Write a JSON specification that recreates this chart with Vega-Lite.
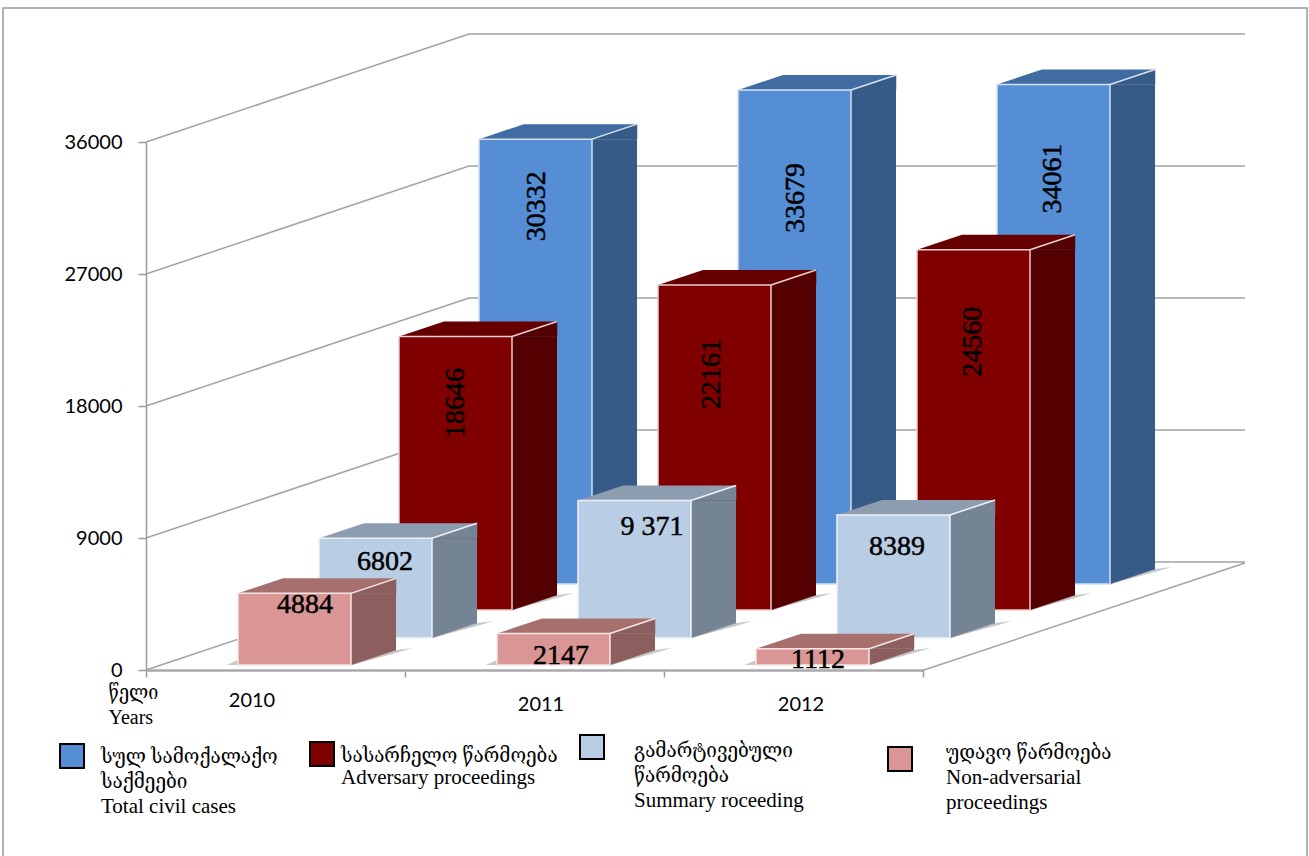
{"$schema":"https://vega.github.io/schema/vega-lite/v6.json","width":777,"height":528,"autosize":{"type":"none"},"padding":{"left":146,"top":142,"right":386,"bottom":186},"background":"white","config":{"view":{"stroke":null},"font":"Liberation Serif","legend":{"title":null,"orient":"none","symbolType":"square","symbolSize":576,"symbolOffset":0,"labelFont":"Liberation Serif, DejaVu Serif Condensed","labelFontSize":21,"labelColor":"black","labelLimit":0,"labelOffset":18,"labelBaseline":"top"}},
"resolve":{"scale":{"fill":"independent"},"legend":{"fill":"independent"}},
"datasets":{"cases":[
{"year":"2010","code":"total","series":"სულ სამოქალაქო\nსაქმეები\nTotal civil cases","value":30332,"label":"30332"},
{"year":"2011","code":"total","series":"სულ სამოქალაქო\nსაქმეები\nTotal civil cases","value":33679,"label":"33679"},
{"year":"2012","code":"total","series":"სულ სამოქალაქო\nსაქმეები\nTotal civil cases","value":34061,"label":"34061"},
{"year":"2010","code":"adv","series":"სასარჩელო წარმოება\nAdversary proceedings","value":18646,"label":"18646"},
{"year":"2011","code":"adv","series":"სასარჩელო წარმოება\nAdversary proceedings","value":22161,"label":"22161"},
{"year":"2012","code":"adv","series":"სასარჩელო წარმოება\nAdversary proceedings","value":24560,"label":"24560"},
{"year":"2010","code":"sum","series":"გამარტივებული\nწარმოება\nSummary roceeding","value":6802,"label":"6802"},
{"year":"2011","code":"sum","series":"გამარტივებული\nწარმოება\nSummary roceeding","value":9371,"label":"9 371"},
{"year":"2012","code":"sum","series":"გამარტივებული\nწარმოება\nSummary roceeding","value":8389,"label":"8389"},
{"year":"2010","code":"non","series":"უდავო წარმოება\nNon-adversarial\nproceedings","value":4884,"label":"4884"},
{"year":"2011","code":"non","series":"უდავო წარმოება\nNon-adversarial\nproceedings","value":2147,"label":"2147"},
{"year":"2012","code":"non","series":"უდავო წარმოება\nNon-adversarial\nproceedings","value":1112,"label":"1112"}],
"ticks":[{"tick":0},{"tick":9000},{"tick":18000},{"tick":27000},{"tick":36000}]},
"data":{"name":"cases"},
"encoding":{"x":{"field":"year","type":"ordinal","scale":{"domain":["2010","2011","2012"],"paddingInner":0,"paddingOuter":0},"axis":{"title":["წელი","Years"],"titleFont":"Liberation Serif, DejaVu Serif Condensed","titleFontSize":20,"titleFontWeight":"normal","titleColor":"black","titleAlign":"left","titleBaseline":"top","titleX":-38,"titleY":12,"titleLineHeight":25,"tickBand":"extent","tickSize":7,"tickColor":"#999999","tickWidth":1.5,"domainColor":"#aaaaaa","domainWidth":2.5,"labelAngle":0,"labelFont":"Lato","labelFontSize":20,"labelColor":"black","labelPadding":12,"encoding":{"labels":{"dx":{"condition":[{"test":"datum.value=='2010'","value":-24},{"test":"datum.value=='2011'","value":6}],"value":7},"dy":{"condition":{"test":"datum.value=='2010'","value":1},"value":5}}}}}},
"layer":[
{"data":{"name":"ticks"},"mark":{"type":"point","shape":"M-272.5,190L-272.5,-662L1031.5,-662L1031.5,190","size":4,"filled":false,"stroke":"#999999","strokeWidth":1.5,"opacity":1},"transform":[{"filter":"datum.tick==0"}],"encoding":{"x":{"datum":"2010"},"y":{"field":"tick","type":"quantitative","scale":{"domain":[0,36000],"nice":false,"zero":true},"axis":{"values":[0,9000,18000,27000,36000],"format":"d","title":null,"grid":false,"domainColor":"#999999","domainWidth":1.5,"tickColor":"#999999","tickWidth":1.5,"tickSize":8,"labelFont":"Lato","labelFontSize":20,"labelColor":"black","labelPadding":16}}}},
{"data":{"name":"ticks"},"mark":{"type":"point","shape":"M0,0L323,-108L1099,-108","size":4,"filled":false,"stroke":"#a3a3a3","strokeWidth":1.5,"opacity":1,"xOffset":-129.5},"encoding":{"x":{"datum":"2010"},"y":{"field":"tick","type":"quantitative"}}},
{"data":{"name":"ticks"},"transform":[{"filter":"datum.tick==0"}],"mark":{"type":"point","shape":"M775,1L1099,-107","size":4,"filled":false,"stroke":"#a3a3a3","strokeWidth":1.5,"opacity":1,"xOffset":-129.5},"encoding":{"x":{"datum":"2010"},"y":{"field":"tick","type":"quantitative"}}},

{"transform":[{"filter":"datum.code=='total'"}],"layer":[
{"mark":{"type":"point","shape":"M-56.5,0L-68,0L-56.5,-5ZM56.5,0L101.5,-15L118,-17L101.5,-12Z","size":4,"filled":true,"fill":"#c9c9c9","stroke":null,"opacity":1,"xOffset":260,"yOffset":-86},"encoding":{"y":{"datum":0,"type":"quantitative"}}},
{"mark":{"type":"bar","size":45,"fill":"#375B87","xOffset":339,"yOffset":-86,"y2Offset":-101},"encoding":{"y":{"field":"value","type":"quantitative","stack":null},"y2":{"datum":0}}},
{"mark":{"type":"point","shape":"M56.5,0L56.5,-15L101.5,-15Z","size":4,"filled":true,"fill":"#375B87","stroke":"#375B87","strokeWidth":0.5,"opacity":1,"xOffset":260,"yOffset":-86},"encoding":{"y":{"datum":0,"type":"quantitative"}}},
{"mark":{"type":"point","shape":"M56.5,0L101.5,-15L101.5,0Z","size":4,"filled":true,"fill":"#375B87","stroke":"#375B87","strokeWidth":0.5,"opacity":1,"xOffset":260,"yOffset":-86},"encoding":{"y":{"field":"value","type":"quantitative"}}},
{"mark":{"type":"point","shape":"M-56.5,0L-11.5,-15L101.5,-15L56.5,0Z","size":4,"filled":true,"fill":"#416CA1","stroke":null,"opacity":1,"xOffset":260,"yOffset":-86},"encoding":{"y":{"field":"value","type":"quantitative"}}},
{"mark":{"type":"point","shape":"M56.5,0L101.5,-15","size":4,"filled":false,"stroke":"#d5e0ee","strokeWidth":1.5,"opacity":1,"xOffset":260,"yOffset":-86},"encoding":{"y":{"field":"value","type":"quantitative"}}},
{"mark":{"type":"bar","size":113,"stroke":"#d5e0ee","strokeWidth":1.5,"xOffset":260,"yOffset":-86,"y2Offset":-86},"encoding":{"y":{"field":"value","type":"quantitative","stack":null},"y2":{"datum":0},"fill":{"field":"series","type":"nominal","scale":{"range":["#558ED5"]},"legend":{"labelExpr":"split(datum.label,'\\n')","legendX":-86,"legendY":602,"encoding":{"symbols":{"stroke":{"value":"black"},"strokeWidth":{"value":2},"x":{"value":12},"y":{"value":12}},"labels":{"lineHeight":{"value":25},"dx":{"value":-3},"dy":{"value":-11}}}}}}},
{"mark":{"type":"text","font":"Liberation Serif","fontSize":28,"stroke":"black","strokeWidth":0.5,"angle":270,"align":"center","baseline":"middle","color":"black","xOffset":{"expr":"datum.year=='2010'?261.5:datum.year=='2011'?261.5:259.5"},"yOffset":{"expr":"datum.year=='2010'?-19:datum.year=='2011'?22:8"}},"encoding":{"y":{"field":"value","type":"quantitative"},"text":{"field":"label"}}}
]},

{"transform":[{"filter":"datum.code=='adv'"}],"layer":[
{"mark":{"type":"point","shape":"M-56.5,0L-68,0L-56.5,-5ZM56.5,0L101.5,-15L118,-17L101.5,-12Z","size":4,"filled":true,"fill":"#c9c9c9","stroke":null,"opacity":1,"xOffset":180,"yOffset":-60},"encoding":{"y":{"datum":0,"type":"quantitative"}}},
{"mark":{"type":"bar","size":45,"fill":"#550000","xOffset":259,"yOffset":-60,"y2Offset":-75},"encoding":{"y":{"field":"value","type":"quantitative","stack":null},"y2":{"datum":0}}},
{"mark":{"type":"point","shape":"M56.5,0L56.5,-15L101.5,-15Z","size":4,"filled":true,"fill":"#550000","stroke":"#550000","strokeWidth":0.5,"opacity":1,"xOffset":180,"yOffset":-60},"encoding":{"y":{"datum":0,"type":"quantitative"}}},
{"mark":{"type":"point","shape":"M56.5,0L101.5,-15L101.5,0Z","size":4,"filled":true,"fill":"#550000","stroke":"#550000","strokeWidth":0.5,"opacity":1,"xOffset":180,"yOffset":-60},"encoding":{"y":{"field":"value","type":"quantitative"}}},
{"mark":{"type":"point","shape":"M-56.5,0L-11.5,-15L101.5,-15L56.5,0Z","size":4,"filled":true,"fill":"#660000","stroke":null,"opacity":1,"xOffset":180,"yOffset":-60},"encoding":{"y":{"field":"value","type":"quantitative"}}},
{"mark":{"type":"point","shape":"M56.5,0L101.5,-15","size":4,"filled":false,"stroke":"#e6cfcf","strokeWidth":1.5,"opacity":1,"xOffset":180,"yOffset":-60},"encoding":{"y":{"field":"value","type":"quantitative"}}},
{"mark":{"type":"bar","size":113,"stroke":"#e6cfcf","strokeWidth":1.5,"xOffset":180,"yOffset":-60,"y2Offset":-60},"encoding":{"y":{"field":"value","type":"quantitative","stack":null},"y2":{"datum":0},"fill":{"field":"series","type":"nominal","scale":{"range":["#800000"]},"legend":{"labelExpr":"split(datum.label,'\\n')","legendX":164,"legendY":600,"encoding":{"symbols":{"stroke":{"value":"black"},"strokeWidth":{"value":2},"x":{"value":12},"y":{"value":12}},"labels":{"lineHeight":{"value":22},"dx":{"value":-13},"dy":{"value":-10}}}}}}},
{"mark":{"type":"text","font":"Liberation Serif","fontSize":28,"stroke":"black","strokeWidth":0.5,"angle":270,"align":"center","baseline":"middle","color":"black","xOffset":{"expr":"datum.year=='2010'?180.5:datum.year=='2011'?177.5:179.5"},"yOffset":{"expr":"datum.year=='2010'?6.5:datum.year=='2011'?29:32"}},"encoding":{"y":{"field":"value","type":"quantitative"},"text":{"field":"label"}}}
]},

{"transform":[{"filter":"datum.code=='sum'"}],"layer":[
{"mark":{"type":"point","shape":"M-56.5,0L-68,0L-56.5,-5ZM56.5,0L101.5,-15L118,-17L101.5,-12Z","size":4,"filled":true,"fill":"#c9c9c9","stroke":null,"opacity":1,"xOffset":100,"yOffset":-32},"encoding":{"y":{"datum":0,"type":"quantitative"}}},
{"mark":{"type":"bar","size":45,"fill":"#748494","xOffset":179,"yOffset":-32,"y2Offset":-47},"encoding":{"y":{"field":"value","type":"quantitative","stack":null},"y2":{"datum":0}}},
{"mark":{"type":"point","shape":"M56.5,0L56.5,-15L101.5,-15Z","size":4,"filled":true,"fill":"#748494","stroke":"#748494","strokeWidth":0.5,"opacity":1,"xOffset":100,"yOffset":-32},"encoding":{"y":{"datum":0,"type":"quantitative"}}},
{"mark":{"type":"point","shape":"M56.5,0L101.5,-15L101.5,0Z","size":4,"filled":true,"fill":"#748494","stroke":"#748494","strokeWidth":0.5,"opacity":1,"xOffset":100,"yOffset":-32},"encoding":{"y":{"field":"value","type":"quantitative"}}},
{"mark":{"type":"point","shape":"M-56.5,0L-11.5,-15L101.5,-15L56.5,0Z","size":4,"filled":true,"fill":"#8D9CAF","stroke":null,"opacity":1,"xOffset":100,"yOffset":-32},"encoding":{"y":{"field":"value","type":"quantitative"}}},
{"mark":{"type":"point","shape":"M56.5,0L101.5,-15","size":4,"filled":false,"stroke":"#eef2f7","strokeWidth":1.5,"opacity":1,"xOffset":100,"yOffset":-32},"encoding":{"y":{"field":"value","type":"quantitative"}}},
{"mark":{"type":"bar","size":113,"stroke":"#eef2f7","strokeWidth":1.5,"xOffset":100,"yOffset":-32,"y2Offset":-32},"encoding":{"y":{"field":"value","type":"quantitative","stack":null},"y2":{"datum":0},"fill":{"field":"series","type":"nominal","scale":{"range":["#B9CDE5"]},"legend":{"labelExpr":"split(datum.label,'\\n')","legendX":434,"legendY":593,"encoding":{"symbols":{"stroke":{"value":"black"},"strokeWidth":{"value":2},"x":{"value":12},"y":{"value":12}},"labels":{"lineHeight":{"value":25},"dx":{"value":10},"dy":{"value":-8}}}}}}},
{"mark":{"type":"text","font":"Liberation Serif","fontSize":28,"stroke":"black","strokeWidth":0.5,"align":"center","baseline":"middle","color":"black","xOffset":{"expr":"datum.year=='2010'?109.5:datum.year=='2011'?117.5:103.5"},"yOffset":{"expr":"datum.year=='2010'?-8:datum.year=='2011'?-6:0"}},"encoding":{"y":{"field":"value","type":"quantitative"},"text":{"field":"label"}}}
]},

{"transform":[{"filter":"datum.code=='non'"}],"layer":[
{"mark":{"type":"point","shape":"M-56.5,0L-68,0L-56.5,-5ZM56.5,0L101.5,-15L118,-17L101.5,-12Z","size":4,"filled":true,"fill":"#c9c9c9","stroke":null,"opacity":1,"xOffset":19,"yOffset":-5},"encoding":{"y":{"datum":0,"type":"quantitative"}}},
{"mark":{"type":"bar","size":45,"fill":"#8C5F5E","xOffset":98,"yOffset":-5,"y2Offset":-20},"encoding":{"y":{"field":"value","type":"quantitative","stack":null},"y2":{"datum":0}}},
{"mark":{"type":"point","shape":"M56.5,0L56.5,-15L101.5,-15Z","size":4,"filled":true,"fill":"#8C5F5E","stroke":"#8C5F5E","strokeWidth":0.5,"opacity":1,"xOffset":19,"yOffset":-5},"encoding":{"y":{"datum":0,"type":"quantitative"}}},
{"mark":{"type":"point","shape":"M56.5,0L101.5,-15L101.5,0Z","size":4,"filled":true,"fill":"#8C5F5E","stroke":"#8C5F5E","strokeWidth":0.5,"opacity":1,"xOffset":19,"yOffset":-5},"encoding":{"y":{"field":"value","type":"quantitative"}}},
{"mark":{"type":"point","shape":"M-56.5,0L-11.5,-15L101.5,-15L56.5,0Z","size":4,"filled":true,"fill":"#A6706E","stroke":null,"opacity":1,"xOffset":19,"yOffset":-5},"encoding":{"y":{"field":"value","type":"quantitative"}}},
{"mark":{"type":"point","shape":"M56.5,0L101.5,-15","size":4,"filled":false,"stroke":"#f5e6e6","strokeWidth":1.5,"opacity":1,"xOffset":19,"yOffset":-5},"encoding":{"y":{"field":"value","type":"quantitative"}}},
{"mark":{"type":"bar","size":113,"stroke":"#f5e6e6","strokeWidth":1.5,"xOffset":19,"yOffset":-5,"y2Offset":-5},"encoding":{"y":{"field":"value","type":"quantitative","stack":null},"y2":{"datum":0},"fill":{"field":"series","type":"nominal","scale":{"range":["#D99694"]},"legend":{"labelExpr":"split(datum.label,'\\n')","legendX":742,"legendY":605,"encoding":{"symbols":{"stroke":{"value":"black"},"strokeWidth":{"value":2},"x":{"value":12},"y":{"value":12}},"labels":{"lineHeight":{"value":25},"dx":{"value":14},"dy":{"value":-18}}}}}}},
{"mark":{"type":"text","font":"Liberation Serif","fontSize":28,"stroke":"black","strokeWidth":0.5,"align":"center","baseline":"middle","color":"black","xOffset":{"expr":"datum.year=='2010'?29.5:datum.year=='2011'?26.5:24.5"},"yOffset":{"expr":"datum.year=='2010'?7:datum.year=='2011'?17:6"}},"encoding":{"y":{"field":"value","type":"quantitative"},"text":{"field":"label"}}}
]}
]}
